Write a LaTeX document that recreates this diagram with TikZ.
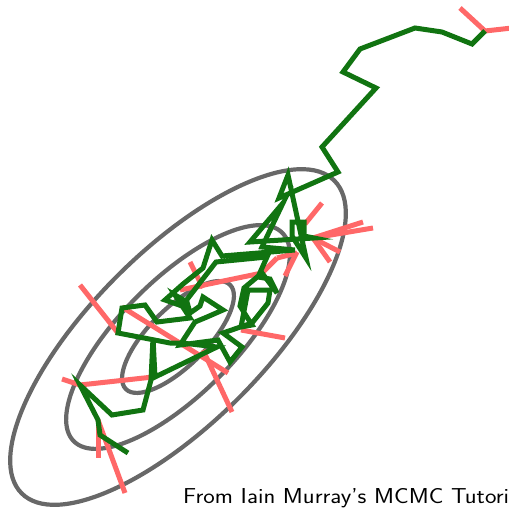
\documentclass[tikz,border=0pt]{standalone}
\usepackage{graphicx}
\begin{document}
\begin{tikzpicture}[x=1pt,y=-1pt,
  contour/.style={draw=cgray,line width=4.2pt},
  reject/.style={draw=cred,line width=5pt},
  chain/.style={draw=cgreen,line width=5pt,line join=miter}]
\definecolor{cgray}{RGB}{104,104,104}
\definecolor{cred}{RGB}{255,104,104}
\definecolor{cgreen}{RGB}{17,116,17}
\useasboundingbox (0,0) rectangle (509,508);
% contours
\foreach \k in {1,2,3}{
  \draw[contour,rotate around={45:(178,337)}] (178,337) ellipse [x radius=73.7pt*\k, y radius=28.7pt*\k];
}
% rejected proposals
\draw[reject] (485,31) -- (460,8);
\draw[reject] (485,31) -- (512,28);
\draw[reject] (313,238) -- (363,222);
\draw[reject] (313,238) -- (373,228);
\draw[reject] (313,238) -- (340,252);
\draw[reject] (313,238) -- (330,262);
\draw[reject] (305,224) -- (322,203);
\draw[reject] (297,252) -- (285,276);
\draw[reject] (277,258) -- (297,253);
\draw[reject] (262,273) -- (277,258);
\draw[reject] (262,273) -- (180,290);
\draw[reject] (241,330) -- (285,338);
\draw[reject] (122,307) -- (228,373);
\draw[reject] (118,333) -- (80,285);
\draw[reject] (190,262) -- (203,288);
\draw[reject] (203,350) -- (232,412);
\draw[reject] (80,385) -- (62,379);
\draw[reject] (80,385) -- (153,377);
\draw[reject] (98,420) -- (98,458);
\draw[reject] (98,420) -- (125,493);
% accepted chain
\draw[chain] (485,31) -- (472,44) -- (442,32) -- (415,28) -- (360,49) -- (343,72)
  -- (376,88) -- (322,147) -- (338,172) -- (279,198) -- (288,175) -- (306,258)
  -- (292,236) -- (292,222) -- (304,222) -- (304,236) -- (314,238) -- (250,242)
  -- (283,203) -- (262,247) -- (295,250) -- (222,256) -- (212,240) -- (203,268)
  -- (183,284) -- (165,300) -- (182,306) -- (216,262) -- (267,257) -- (258,277)
  -- (270,279) -- (277,293) -- (262,273)
  -- (244,288) -- (240,306) -- (252,325) -- (241,327) -- (248,290) -- (270,290)
  -- (268,303) -- (252,323) -- (223,333) -- (242,347) -- (230,362) -- (218,340)
  -- (180,345) -- (195,322) -- (207,317) -- (223,310) -- (203,297) -- (200,306)
  -- (190,313) -- (187,302) -- (175,295) -- (190,318) -- (157,322) -- (145,305)
  -- (122,308) -- (118,333) -- (170,343) -- (182,343) -- (217,347) -- (155,377)
  -- (153,338) -- (151,380) -- (143,410) -- (112,415) -- (80,385) -- (98,420)
  -- (100,435) -- (128,453);
% caption
\node[anchor=base west,inner sep=0pt,font=\sffamily\fontsize{21.6}{26}\selectfont] (cap) at (183,503) {\scalebox{1.13}[1]{From Iain Murray's MCMC Tutori}};
\end{tikzpicture}
\end{document}
